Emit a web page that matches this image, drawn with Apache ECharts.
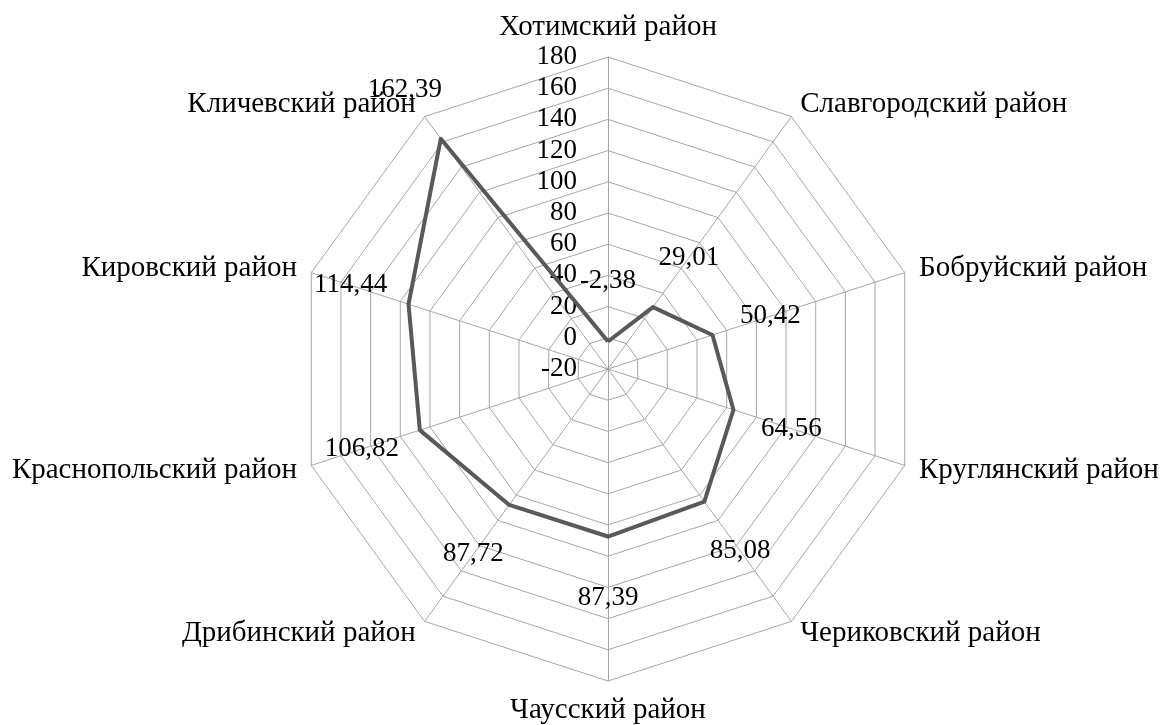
<!DOCTYPE html>
<html>
<head>
<meta charset="utf-8">
<script src="https://cdn.jsdelivr.net/npm/echarts@6/dist/echarts.min.js"></script>
<style>
html,body{margin:0;padding:0;background:#fff;}
#chart{width:1165px;height:725px;}
</style>
</head>
<body>
<div id="chart"></div>
<script>
// Categories listed clockwise starting from the top axis
const categories = [
  'Хотимский район',
  'Славгородский район',
  'Бобруйский район',
  'Круглянский район',
  'Чериковский район',
  'Чаусский район',
  'Дрибинский район',
  'Краснопольский район',
  'Кировский район',
  'Кличевский район'
];
const values = [-2.38, 29.01, 50.42, 64.56, 85.08, 87.39, 87.72, 106.82, 114.44, 162.39];
const axisMin = -20;
const axisMax = 180;
const axisSplit = 10;

// ECharts radar places indicators counter-clockwise; reorder to get clockwise layout
const order = [0].concat(categories.map((_, i) => i).slice(1).reverse());
const ecCats = order.map(i => categories[i]);
const ecVals = order.map(i => values[i]);

const FONT = 'Liberation Serif, Times New Roman, serif';
const LABEL_DIST = 61;
const rich = {};
ecCats.forEach((_, i) => {
  const th = Math.PI / 2 + i * 2 * Math.PI / ecCats.length;
  const dx = LABEL_DIST * Math.cos(th);
  const dy = -LABEL_DIST * Math.sin(th);
  rich['p' + i] = {
    fontSize: 27,
    fontFamily: FONT,
    color: '#000',
    padding: [dy > 0 ? 2 * dy : 0, dx < 0 ? -2 * dx : 0, dy < 0 ? -2 * dy : 0, dx > 0 ? 2 * dx : 0]
  };
});

const indicators = ecCats.map((name, i) => {
  const ind = { name: name, min: axisMin, max: axisMax };
  if (i === 0) {
    ind.axisLabel = {
      show: true,
      color: '#000',
      fontSize: 27,
      fontFamily: FONT,
      margin: 31,
      formatter: v => String(v)
    };
  }
  return ind;
});

const chart = echarts.init(document.getElementById('chart'), null, { renderer: 'canvas' });
chart.setOption({
  backgroundColor: '#fff',
  animation: false,
  radar: {
    center: [608, 369],
    radius: 312,
    startAngle: 90,
    shape: 'polygon',
    splitNumber: axisSplit,
    nameGap: 15,
    axisName: { color: '#000', fontSize: 29, fontFamily: FONT },
    axisLine: { show: true, lineStyle: { color: '#a6a6a6', width: 1 } },
    axisTick: { show: false },
    axisLabel: { show: false },
    splitLine: { show: true, lineStyle: { color: '#a6a6a6', width: 1 } },
    splitArea: { show: false },
    indicator: indicators
  },
  series: [{
    type: 'radar',
    symbol: 'circle',
    symbolSize: 1,
    itemStyle: { color: '#595959' },
    lineStyle: { color: '#595959', width: 4 },
    label: {
      show: true,
      position: 'inside',
      align: 'center',
      verticalAlign: 'middle',
      formatter: function (p) {
        let idx = p.dimensionIndex;
        if (idx == null) idx = ecVals.indexOf(p.value);
        const v = Number(p.value).toFixed(2).replace('.', ',');
        return '{p' + idx + '|' + v + '}';
      },
      rich: rich
    },
    data: [{ value: ecVals, name: 'values' }]
  }]
});
</script>
</body>
</html>
